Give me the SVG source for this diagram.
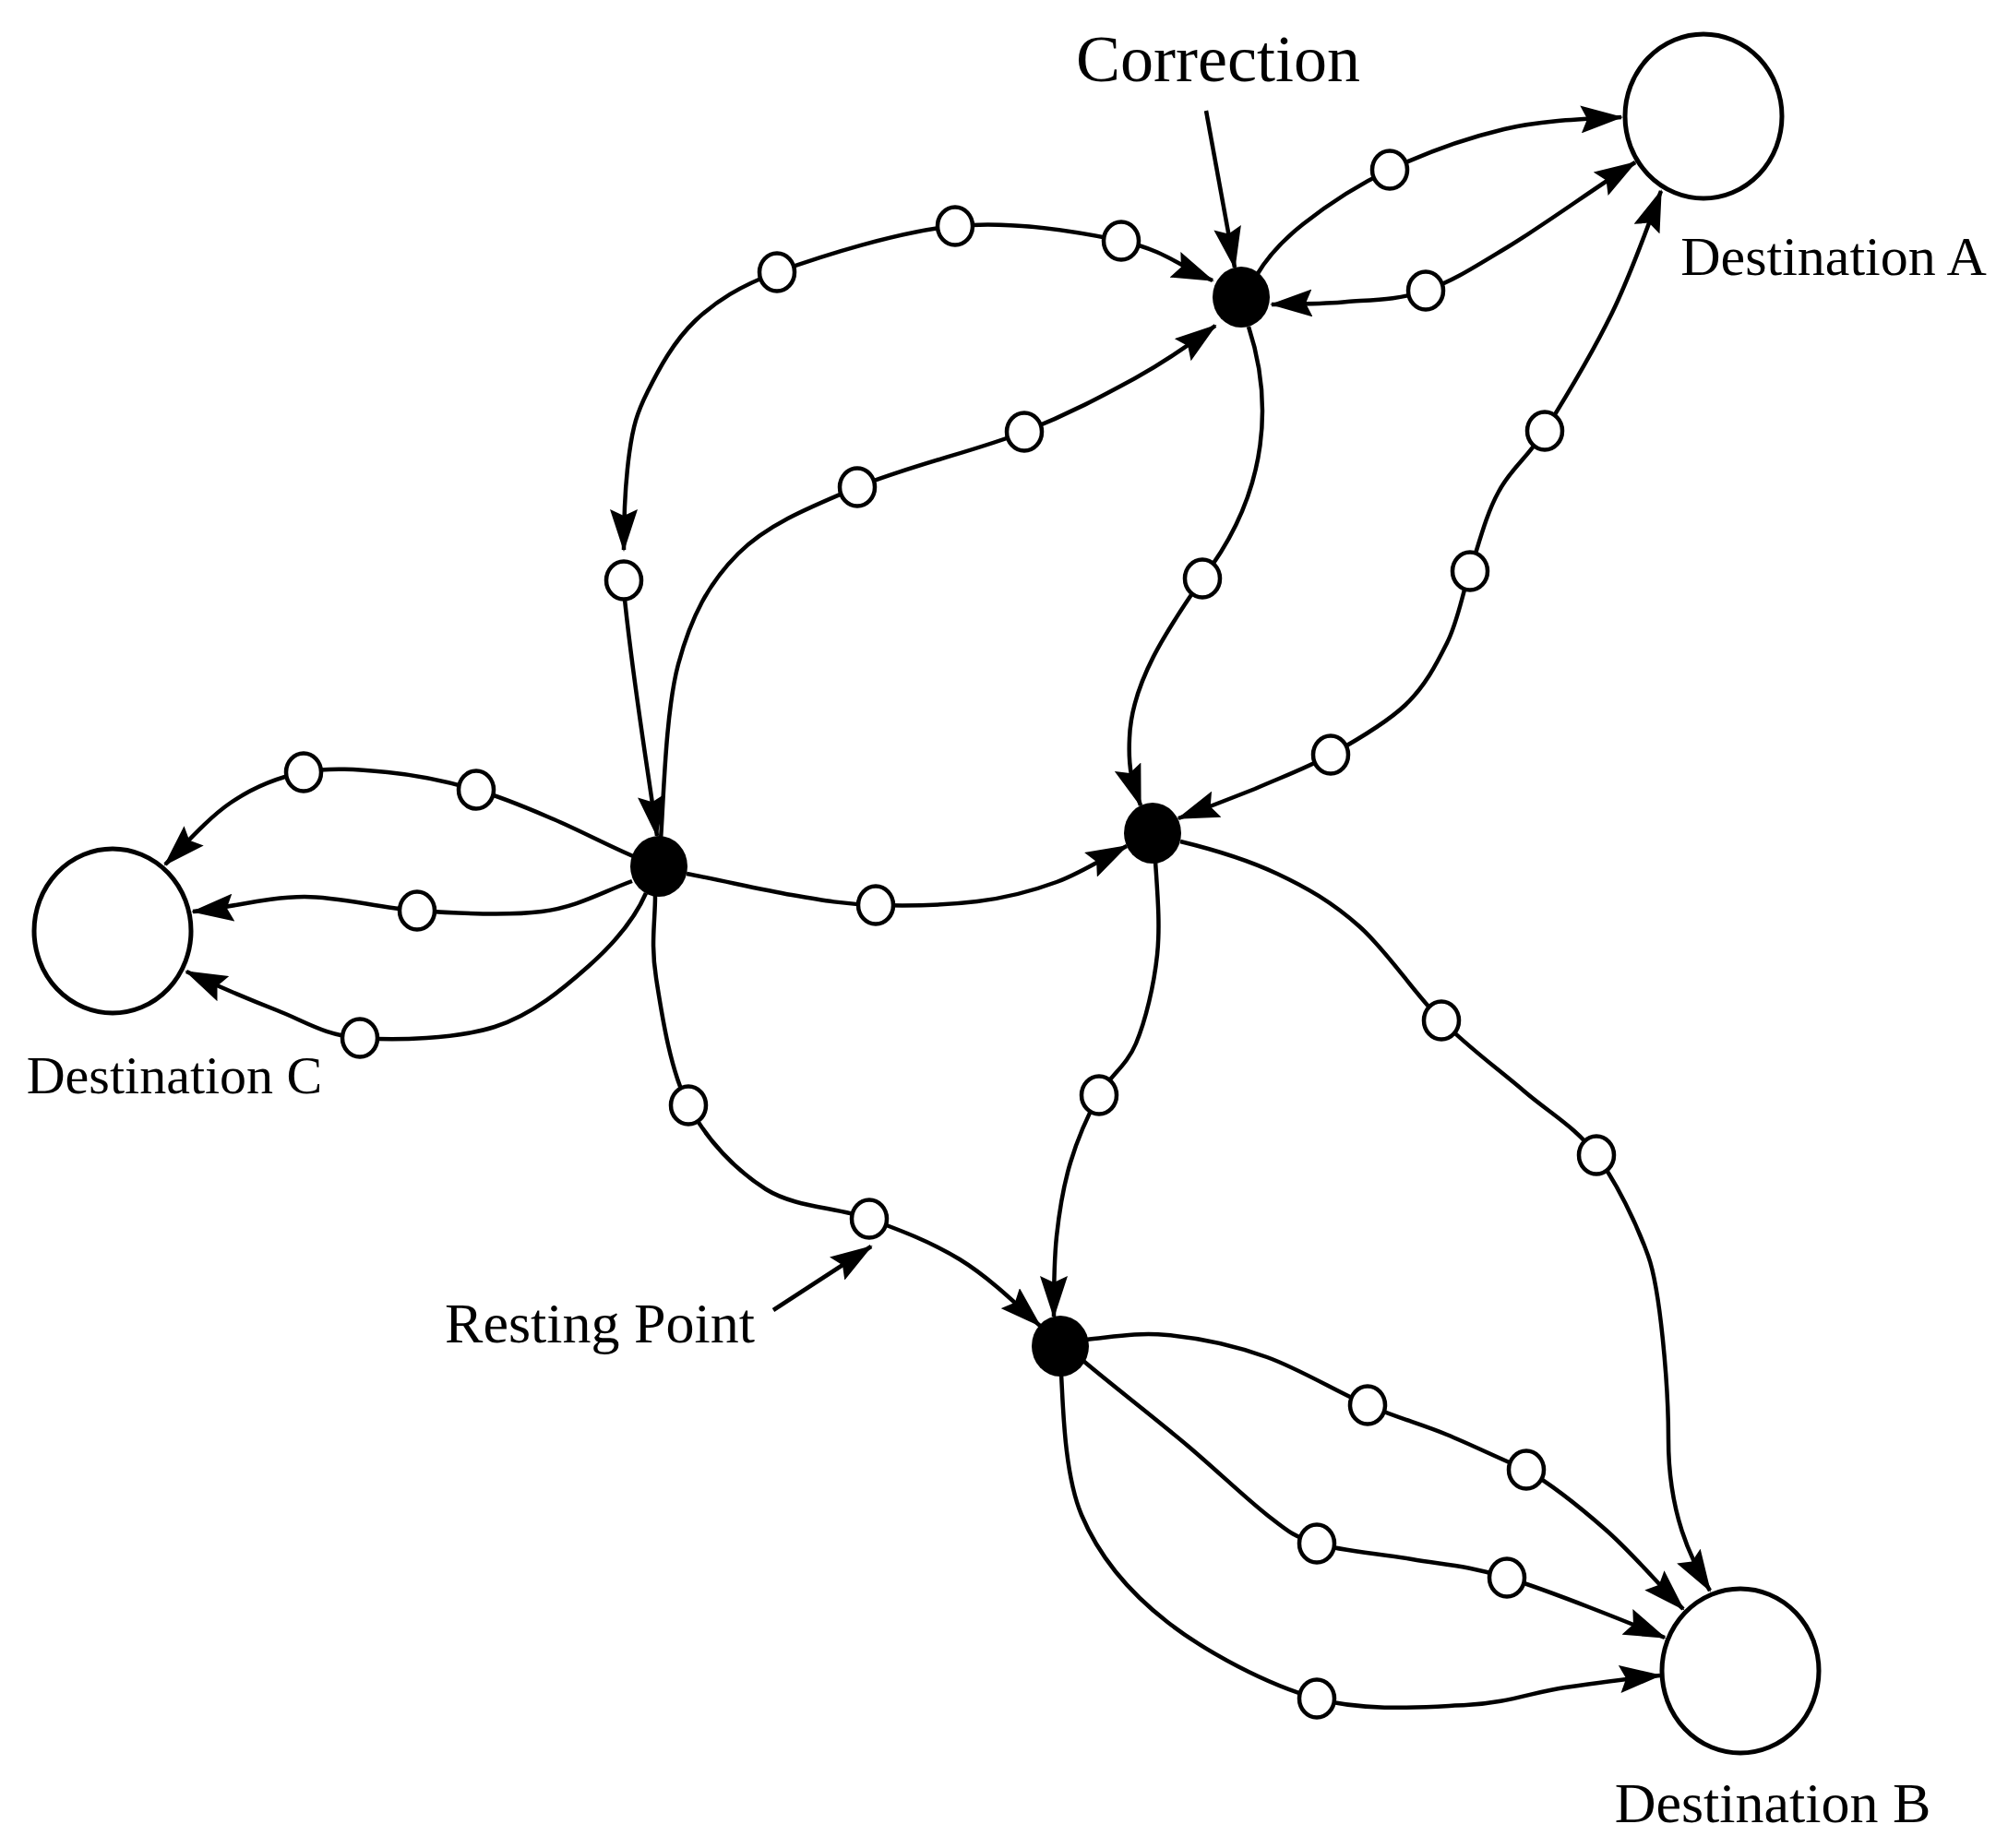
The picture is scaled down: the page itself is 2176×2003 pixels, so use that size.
<svg xmlns="http://www.w3.org/2000/svg" width="2176" height="2003" viewBox="0 0 2176 2003">
<style>
.edge{fill:none;stroke:#000;stroke-width:4.5;stroke-linecap:butt}
.arr{marker-end:url(#ah)}
.both{marker-start:url(#ah);marker-end:url(#ah)}
.rp{fill:#fff;stroke:#000;stroke-width:4.5}
.hub{fill:#000}
.dest{fill:#fff;stroke:#000;stroke-width:5}
.lbl{font-family:"Liberation Serif","Times New Roman",serif;fill:#000;text-anchor:middle}
</style>
<defs>
<marker id="ah" viewBox="0 0 46 30" refX="44" refY="15" markerWidth="46" markerHeight="30" markerUnits="userSpaceOnUse" orient="auto-start-reverse">
<path d="M0,0 L46,15 L0,30 L7,15 Z" fill="#000"/>
</marker>
</defs>
<rect width="2176" height="2003" fill="#fff"/>
<g id="connectors">
<path class="edge arr" d="M842,295 C889,278 973,251 1035,245 C1097,239 1168,251 1215,261 C1262,271 1281,290 1314,304"/>
<path class="edge arr" d="M842,295 C802,310 776,326 753,348 C730,370 714,400 702,424 C690,448 686,462 682,491 C678,520 676,563 676,596"/>
<path class="edge arr" d="M675,629 C683,720 700,820 712,906"/>
<path class="edge arr" d="M716,910 C719,870 721,772 735,720 C749,668 768,632 800,600 C832,568 877,550 929,528 C981,506 1060,488 1110,468 C1160,448 1195,429 1230,410 C1264,391 1290,373 1317,353"/>
<path class="edge arr" d="M1362,298 C1372,281 1388,262 1412,243 C1436,224 1470,201 1506,184 C1542,167 1588,150 1630,140 C1672,130 1720,129 1757,127"/>
<path class="edge both" d="M1378,330 C1405,329 1432,330 1460,327 C1488,325 1516,325 1545,315 C1574,305 1597,290 1635,267 C1673,244 1732,201 1772,176"/>
<path class="edge both" d="M1277,887 C1304,877 1332,866 1360,855 C1387,843 1415,833 1442,818 C1469,803 1502,784 1523,764 C1544,744 1556,721 1568,697 C1580,673 1584,646 1593,619 C1602,592 1610,558 1624,533 C1637,508 1653,499 1674,467 C1694,435 1726,382 1747,339 C1768,296 1783,252 1800,207"/>
<path class="edge arr" d="M1353,354 C1378,430 1378,530 1303,627 C1265,682 1226,740 1224,800 C1222,840 1230,855 1236,873"/>
<path class="edge arr" d="M744,947 C781,954 824,964 858,970 C892,976 915,980 949,981 C983,982 1026,981 1059,977 C1092,973 1118,966 1145,956 C1172,946 1196,930 1221,917"/>
<path class="edge arr" d="M686,928 C656,915 628,900 600,888 C572,876 546,864.5 516,856 C486,847.5 451,840 420,837 C389,834 357,831.5 329,837 C301,842.5 275,853 250,870 C225,887 199,917 179,937"/>
<path class="edge arr" d="M685,955 C652,967 626,983 587,988 C548,993 495,990 452,987 C409,984 370,972 330,972 C289.5,972 249,984 209,988"/>
<path class="edge arr" d="M700,968 C687,998 665,1023 638,1047 C611,1071 577,1100 536,1113 C495,1126 429,1128 390,1125 C351,1122 331,1107 300,1095 C269,1083 234,1068 202,1053"/>
<path class="edge arr" d="M710,970 C710,1000 705,1022 711,1060 C717,1098 726,1160 746,1198 C766,1236 797,1268 830,1289 C863,1309.5 907,1308 942,1321 C977,1334 1009,1346 1040,1365 C1071,1384 1100,1412 1127,1437"/>
<path class="edge arr" d="M1252,933 C1254,965 1257.5,1002 1254,1035 C1250.5,1068 1241.5,1106 1231,1131 C1220.5,1156 1203,1165.5 1191,1187 C1179,1208.5 1167.7,1234.5 1160,1260 C1152.3,1285.5 1148,1312 1145,1340 C1142,1368 1142,1398 1142,1427"/>
<path class="edge arr" d="M1279,912 C1312,920 1352,932 1384,947 C1416,962 1443,977.5 1473,1004 C1503,1030.5 1532,1076 1562,1106 C1592,1136 1624,1159 1652,1183 C1680,1207 1708,1222 1730,1252 C1752,1282 1773,1325 1786,1361 C1799,1397 1808,1500 1808,1560 C1808,1640 1832,1690 1853,1724"/>
<path class="edge arr" d="M1177,1452 C1207,1449 1232,1444 1265,1447 C1298,1450 1337,1458 1373,1471 C1409,1484 1449.5,1509 1482,1523 C1514.5,1537 1539,1543 1568,1555 C1597,1567 1625,1581 1654,1593 C1683,1610 1711,1632.5 1740,1658 C1769,1683.5 1797,1717 1824,1744"/>
<path class="edge arr" d="M1174,1475 C1201,1498 1254,1539 1287,1567 C1320,1595 1350,1624 1373,1642 C1396,1660 1401,1665 1427,1673 C1453,1681 1496,1684 1530,1690 C1564,1696 1587,1696 1633,1710 C1679,1724 1771,1761 1804,1775"/>
<path class="edge arr" d="M1150,1489 C1152,1522 1153,1597 1172,1642 C1191,1687 1222.5,1725 1265,1758 C1307.5,1791 1373,1826 1427,1841 C1481,1856 1544,1850 1589,1848 C1634,1846 1661,1834 1696,1829 C1731,1824 1766,1819 1799,1816"/>
<path class="edge arr" d="M1307,120 L1338,290"/>
<path class="edge arr" d="M838,1420 L944,1351"/>
</g>
<g id="dest-A"><ellipse class="dest" cx="1846" cy="126" rx="85" ry="89"/><text class="lbl" x="1987" y="298" font-size="60">Destination A</text></g>
<g id="dest-B"><ellipse class="dest" cx="1886" cy="1811" rx="85" ry="89"/><text class="lbl" x="1921" y="1975" font-size="62">Destination B</text></g>
<g id="dest-C"><ellipse class="dest" cx="122" cy="1009" rx="85" ry="89"/><text class="lbl" x="189" y="1185" font-size="58">Destination C</text></g>
<g id="hub-correction"><ellipse class="hub" cx="1345" cy="322" rx="31" ry="33"/></g>
<g id="hub-left"><ellipse class="hub" cx="714" cy="939" rx="31" ry="33"/></g>
<g id="hub-middle"><ellipse class="hub" cx="1249" cy="903" rx="31" ry="33"/></g>
<g id="hub-bottom"><ellipse class="hub" cx="1149" cy="1459" rx="31" ry="33"/></g>
<g id="rp1"><ellipse class="rp" cx="842" cy="295" rx="19" ry="20.5"/></g>
<g id="rp2"><ellipse class="rp" cx="1035" cy="245" rx="19" ry="20.5"/></g>
<g id="rp3"><ellipse class="rp" cx="1215" cy="261" rx="19" ry="20.5"/></g>
<g id="rp4"><ellipse class="rp" cx="676" cy="629" rx="19" ry="20.5"/></g>
<g id="rp5"><ellipse class="rp" cx="929" cy="528" rx="19" ry="20.5"/></g>
<g id="rp6"><ellipse class="rp" cx="1110" cy="468" rx="19" ry="20.5"/></g>
<g id="rp7"><ellipse class="rp" cx="1506" cy="184" rx="19" ry="20.5"/></g>
<g id="rp8"><ellipse class="rp" cx="1545" cy="315" rx="19" ry="20.5"/></g>
<g id="rp9"><ellipse class="rp" cx="1442" cy="818" rx="19" ry="20.5"/></g>
<g id="rp10"><ellipse class="rp" cx="1593" cy="619" rx="19" ry="20.5"/></g>
<g id="rp11"><ellipse class="rp" cx="1674" cy="467" rx="19" ry="20.5"/></g>
<g id="rp12"><ellipse class="rp" cx="1303" cy="627" rx="19" ry="20.5"/></g>
<g id="rp13"><ellipse class="rp" cx="949" cy="981" rx="19" ry="20.5"/></g>
<g id="rp14"><ellipse class="rp" cx="516" cy="856" rx="19" ry="20.5"/></g>
<g id="rp15"><ellipse class="rp" cx="329" cy="837" rx="19" ry="20.5"/></g>
<g id="rp16"><ellipse class="rp" cx="452" cy="987" rx="19" ry="20.5"/></g>
<g id="rp17"><ellipse class="rp" cx="390" cy="1125" rx="19" ry="20.5"/></g>
<g id="rp18"><ellipse class="rp" cx="746" cy="1198" rx="19" ry="20.5"/></g>
<g id="rp19"><ellipse class="rp" cx="942" cy="1321" rx="19" ry="20.5"/></g>
<g id="rp20"><ellipse class="rp" cx="1191" cy="1187" rx="19" ry="20.5"/></g>
<g id="rp21"><ellipse class="rp" cx="1562" cy="1106" rx="19" ry="20.5"/></g>
<g id="rp22"><ellipse class="rp" cx="1730" cy="1252" rx="19" ry="20.5"/></g>
<g id="rp23"><ellipse class="rp" cx="1482" cy="1523" rx="19" ry="20.5"/></g>
<g id="rp24"><ellipse class="rp" cx="1654" cy="1593" rx="19" ry="20.5"/></g>
<g id="rp25"><ellipse class="rp" cx="1427" cy="1673" rx="19" ry="20.5"/></g>
<g id="rp26"><ellipse class="rp" cx="1633" cy="1710" rx="19" ry="20.5"/></g>
<g id="rp27"><ellipse class="rp" cx="1427" cy="1841" rx="19" ry="20.5"/></g>
<g id="label-correction"><text class="lbl" x="1320" y="88" font-size="72">Correction</text></g>
<g id="label-resting"><text class="lbl" x="650" y="1455" font-size="62">Resting Point</text></g>
</svg>
